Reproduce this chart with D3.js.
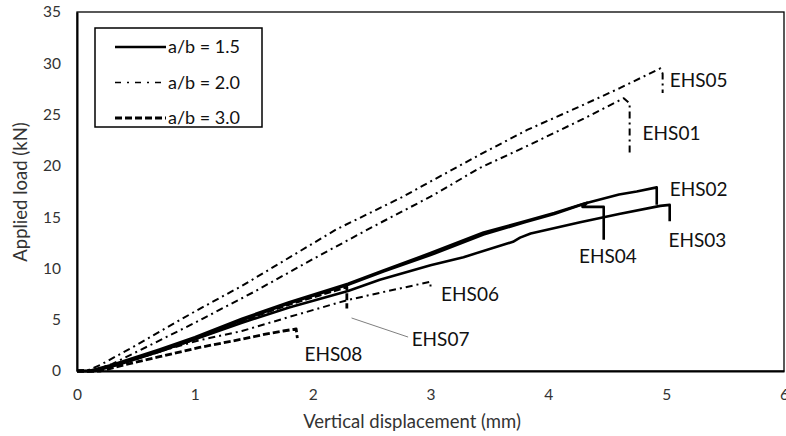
<!DOCTYPE html>
<html>
<head>
<meta charset="utf-8">
<script src="https://cdn.jsdelivr.net/npm/d3@7"></script>
<style>
  body { margin: 0; background: #fff; }
  svg { display: block; }
  text { font-family: Lato, "Open Sans", sans-serif; }
</style>
</head>
<body>
<div id="chart"></div>
<script>
// values (displacement mm, load kN)
const xTicks = [0, 1, 2, 3, 4, 5, 6]
const yTicks = [0, 5, 10, 15, 20, 25, 30, 35]
const ratios = ['1.5', '2.0', '3.0']

const ehs01 = [[0,0],[0.15,0.1],[0.3,0.7],[0.6,2.4],[1.0,4.7],[1.5,7.7],[2.0,10.9],[2.5,14.0],[3.0,17.0],[3.42,19.8],[3.85,22.1],[4.3,24.6],[4.64,26.6],[4.69,26.1],[4.69,21.1]]
const ehs05 = [[0,0],[0.1,0.1],[0.2,0.6],[0.5,2.5],[1.0,5.8],[1.4,8.3],[2.2,13.8],[2.75,16.9],[3.42,21.1],[3.82,23.5],[4.25,25.7],[4.61,27.6],[4.95,29.5],[4.97,29.0],[4.97,27.1]]
const ehs02 = [[0,0],[0.1,0],[0.3,0.6],[0.7,2.1],[1.0,3.3],[1.4,5.1],[1.8,6.7],[2.3,8.5],[2.6,9.8],[3.0,11.5],[3.45,13.5],[3.8,14.6],[4.05,15.4],[4.3,16.3],[4.6,17.2],[4.75,17.5],[4.92,17.9],[4.92,16.2]]
const ehs03 = [[0,0],[0.15,0],[0.35,0.6],[0.7,1.9],[1.0,3.1],[1.4,4.7],[1.8,6.2],[2.3,7.8],[2.57,8.9],[3.0,10.3],[3.28,11.1],[3.7,12.6],[3.76,13.0],[3.85,13.4],[4.27,14.5],[4.6,15.3],[4.95,16.1],[5.03,16.2],[5.03,14.6]]
const ehs04 = [[0,0],[0.12,0],[0.3,0.5],[0.7,2.0],[1.0,3.2],[1.4,4.95],[1.8,6.6],[2.3,8.4],[2.6,9.7],[3.0,11.3],[3.45,13.3],[3.8,14.5],[4.05,15.3],[4.33,16.4],[4.29,16.0],[4.47,16.0],[4.47,12.8]]
const ehs06 = [[0,0],[0.15,0],[0.4,0.8],[0.7,1.9],[1.04,3.0],[1.4,3.9],[1.81,5.3],[2.29,6.9],[2.6,7.7],[3.0,8.7],[3.0,7.9]]
const ehs07 = [[0,0],[0.15,0],[0.3,0.5],[0.7,1.9],[1.0,3.1],[1.4,4.9],[1.8,6.5],[2.29,8.2],[2.29,6.1]]
const ehs08 = [[0,0],[0.2,0],[0.4,0.6],[0.7,1.4],[1.04,2.3],[1.4,3.1],[1.6,3.6],[1.75,3.9],[1.86,4.1],[1.87,3.2]]

// label anchors (left edge, middle) in data units
const labelNames = ['EHS05','EHS01','EHS02','EHS03','EHS04','EHS06','EHS07','EHS08']
const labelX = [5.03, 4.80, 5.03, 5.02, 4.26, 3.09, 2.84, 1.93]
const labelY = [28.4, 23.2, 17.7, 12.8, 11.2, 7.5, 3.07, 1.6]
const leader = [[2.33, 5.17], [2.81, 3.31]]

const series = [
  { name: 'EHS01', ratio: '2.0', pts: ehs01 },
  { name: 'EHS05', ratio: '2.0', pts: ehs05 },
  { name: 'EHS06', ratio: '2.0', pts: ehs06 },
  { name: 'EHS08', ratio: '3.0', pts: ehs08 },
  { name: 'EHS07', ratio: '3.0', pts: ehs07 },
  { name: 'EHS03', ratio: '1.5', pts: ehs03 },
  { name: 'EHS04', ratio: '1.5', pts: ehs04 },
  { name: 'EHS02', ratio: '1.5', pts: ehs02 }
]

const lineStyle = {
  '1.5': { w: 2.6, dash: null },
  '2.0': { w: 2, dash: '7,4,2,4' },
  '3.0': { w: 2.8, dash: '7,3' }
}

const w = 786
const h = 436

const svg = d3.select('#chart')
              .append('svg')
              .attr('width', w)
              .attr('height', h)

const x = d3.scaleLinear().domain([0, 6]).range([77, 784])
const y = d3.scaleLinear().domain([0, 35]).range([371, 12])

// plot border
svg.append('rect')
   .attr('x', x(0))
   .attr('y', y(35))
   .attr('width', x(6) - x(0))
   .attr('height', y(0) - y(35))
   .attr('fill', 'none')
   .attr('stroke', '#000')
   .attr('stroke-width', 1.3)

const xAxis = d3.axisBottom(x).tickValues(xTicks).tickSize(0).tickPadding(18).tickFormat(d3.format('d'))
const yAxis = d3.axisLeft(y).tickValues(yTicks).tickSize(0).tickPadding(16).tickFormat(d3.format('d'))

const gx = svg.append('g').attr('transform', `translate(0,${y(0)})`).call(xAxis)
const gy = svg.append('g').attr('transform', `translate(${x(0)},0)`).call(yAxis)
gx.select('.domain').attr('stroke', '#000').attr('stroke-width', 2)
gy.select('.domain').attr('stroke', '#000').attr('stroke-width', 2)
svg.selectAll('.tick text')
   .attr('font-family', 'Lato, sans-serif')
   .attr('font-size', 15.5)
   .attr('fill', '#333')

svg.append('text')
   .attr('x', 412)
   .attr('y', 428)
   .attr('text-anchor', 'middle')
   .attr('font-size', 18.5)
   .attr('fill', '#333')
   .text('Vertical displacement (mm)')

svg.append('text')
   .attr('transform', 'translate(27,192) rotate(-90)')
   .attr('text-anchor', 'middle')
   .attr('font-size', 18.5)
   .attr('fill', '#333')
   .text('Applied load (kN)')

const line = d3.line().x(d => x(d[0])).y(d => y(d[1]))

svg.append('g')
   .selectAll('path')
   .data(series)
   .enter()
   .append('path')
   .attr('d', d => line(d.pts))
   .attr('fill', 'none')
   .attr('stroke', '#000')
   .attr('stroke-width', d => lineStyle[d.ratio].w)
   .attr('stroke-dasharray', d => lineStyle[d.ratio].dash)
   .attr('stroke-linejoin', 'round')

// leader line to EHS07
svg.append('line')
   .attr('x1', x(leader[0][0])).attr('y1', y(leader[0][1]))
   .attr('x2', x(leader[1][0])).attr('y2', y(leader[1][1]))
   .attr('stroke', '#7f7f7f')
   .attr('stroke-width', 1)

svg.append('g')
   .selectAll('text')
   .data(labelNames)
   .enter()
   .append('text')
   .attr('x', (d, i) => x(labelX[i]))
   .attr('y', (d, i) => y(labelY[i]))
   .attr('dy', '0.36em')
   .attr('font-size', 19)
   .attr('fill', '#111')
   .text(d => d)

// legend
const legend = svg.append('g').attr('id', 'legend')
legend.append('rect')
      .attr('x', 95).attr('y', 28)
      .attr('width', 167).attr('height', 99)
      .attr('fill', '#fff')
      .attr('stroke', '#000')
      .attr('stroke-width', 1.5)

const rows = legend.selectAll('g.row')
                   .data(ratios)
                   .enter()
                   .append('g')
                   .attr('class', 'row')
                   .attr('transform', (d, i) => `translate(0,${47 + i * 35.5})`)

rows.append('line')
    .attr('x1', 115).attr('x2', 166)
    .attr('stroke', '#000')
    .attr('stroke-width', d => d === '2.0' ? 1.4 : lineStyle[d].w)
    .attr('stroke-dasharray', d => d === '2.0' ? '6,6,2,6' : lineStyle[d].dash)

rows.append('text')
    .attr('x', 168)
    .attr('dy', '0.36em')
    .attr('font-size', 18)
    .attr('fill', '#111')
    .text(d => 'a/b = ' + d)
</script>
</body>
</html>
